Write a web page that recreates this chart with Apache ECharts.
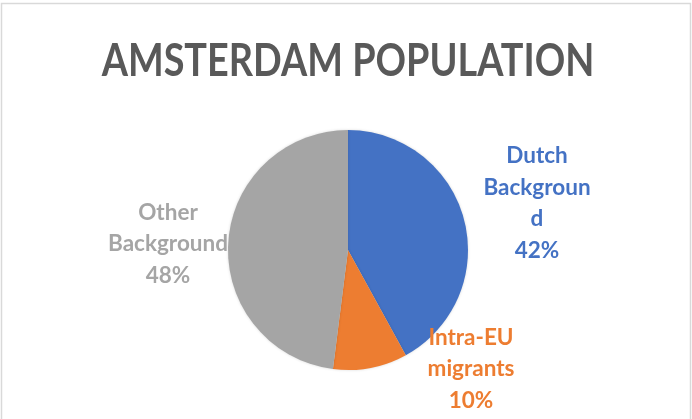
<!DOCTYPE html>
<html><head><meta charset="utf-8">
<script src="https://cdn.jsdelivr.net/npm/echarts@6/dist/echarts.min.js"></script>
<style>html,body{margin:0;padding:0;background:#fff}#c{width:692px;height:419px}</style>
</head><body><div id="c"></div>
<script>
const titleText = 'AMSTERDAM POPULATION';
const categories = ['Dutch Background', 'Intra-EU migrants', 'Other Background'];
const labelLines = [['Dutch', 'Backgroun', 'd'], ['Intra-EU', 'migrants'], ['Other', 'Background']];
const values = [42, 10, 48];
const colors = ['#4472C4', '#ED7D31', '#A5A5A5'];
const labelPos = [[537, 203], [471, 369], [168, 244]];

const chart = echarts.init(document.getElementById('c'));
chart.setOption({
  backgroundColor: '#fff',
  animation: false,
  graphic: [
    {type: 'rect', shape: {x: 1.5, y: 3.5, width: 689, height: 430}, style: {fill: 'none', stroke: '#d9d9d9', lineWidth: 1.5}},
    {type: 'text', x: 348, y: 61, scaleX: 0.84, style: {text: titleText, fontFamily: 'Lato', fontWeight: 'bold', fontSize: 45, fill: '#595959', align: 'center', verticalAlign: 'middle'}}
  ],
  series: [{
    type: 'pie', center: [348, 250], radius: 120, startAngle: 90, clockwise: true,
    data: categories.map((n, i) => ({name: n, value: values[i], itemStyle: {color: colors[i]},
      label: {color: colors[i]}})),
    label: {show: true, position: 'outside', fontFamily: 'Lato', fontWeight: 'bold', fontSize: 22.5, lineHeight: 31.5, align: 'center',
      formatter: p => labelLines[p.dataIndex].join('\n') + '\n' + p.value + '%'},
    labelLine: {show: false},
    labelLayout: p => ({x: labelPos[p.dataIndex][0], y: labelPos[p.dataIndex][1], align: 'center', verticalAlign: 'middle'}),
    itemStyle: {borderWidth: 0, shadowBlur: 3, shadowColor: 'rgba(0,0,0,0.15)'},
    emphasis: {disabled: true}
  }]
});
</script></body></html>
